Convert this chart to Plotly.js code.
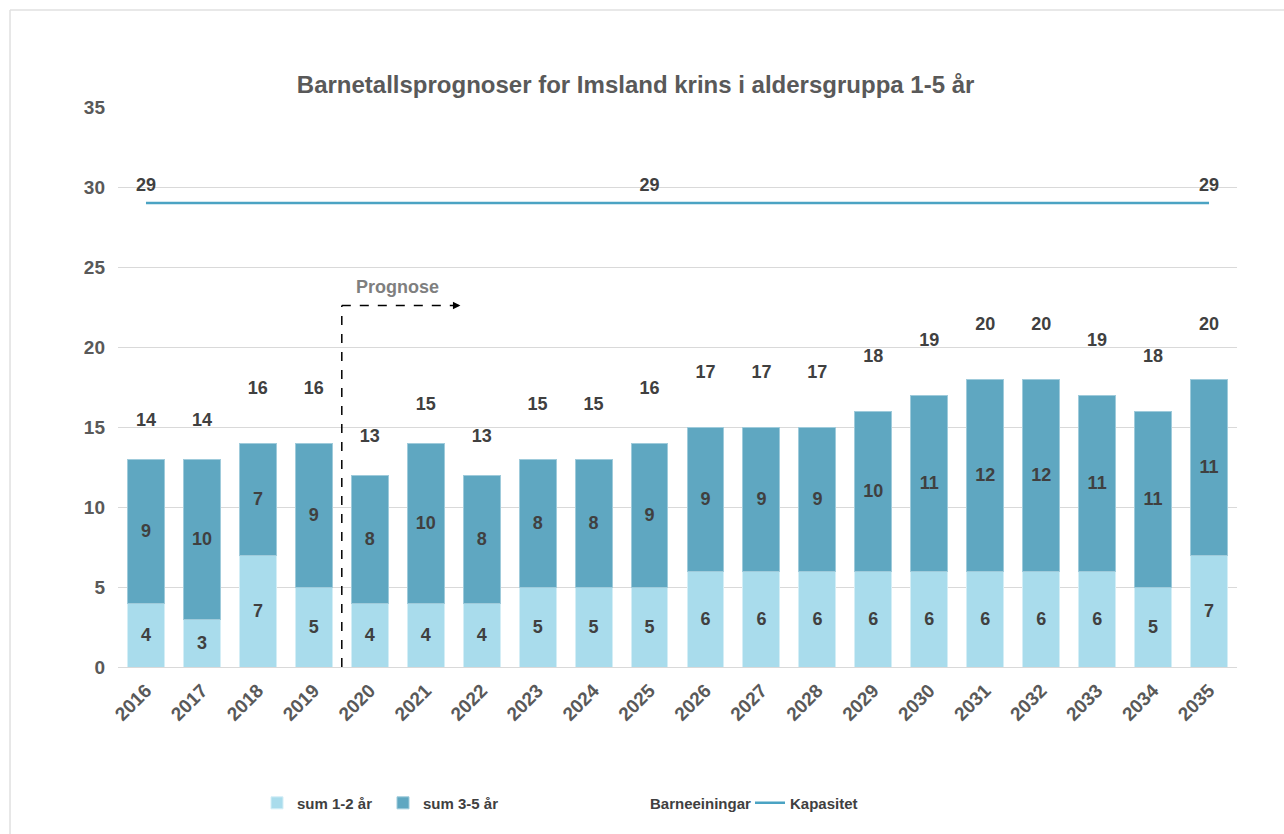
<!DOCTYPE html>
<html>
<head>
<meta charset="utf-8">
<script src="https://cdn.plot.ly/plotly-3.0.1.min.js"></script>
<style>html,body{margin:0;padding:0;background:#fff;}#chart{width:1284px;height:834px;}</style>
</head>
<body>
<div id="chart"></div>
<script>
const years = ['2016','2017','2018','2019','2020','2021','2022','2023','2024','2025','2026','2027','2028','2029','2030','2031','2032','2033','2034','2035'];
const sum12 = [4,3,7,5,4,4,4,5,5,5,6,6,6,6,6,6,6,6,5,7];
const sum35 = [9,10,7,9,8,10,8,8,8,9,9,9,9,10,11,12,12,11,11,11];
const barneeiningar = [14,14,16,16,13,15,13,15,15,16,17,17,17,18,19,20,20,19,18,20];
const kapasitet = [29,29,29,29,29,29,29,29,29,29,29,29,29,29,29,29,29,29,29,29];
const kapLabelIdx = [0, 9, 19];

const FF = 'Liberation Sans, Arial, sans-serif';
const labelFont = {family: FF, size: 18, color: '#404040', weight: 'bold'};
const legendFont = {family: FF, size: 15, color: '#404040', weight: 'bold'};

const traces = [
  {
    type: 'bar', name: 'sum 1-2 år', x: years, y: sum12, legend: 'legend',
    marker: {color: '#a9dcec', line: {color: '#d4eef6', width: 1}},
    text: sum12.map(String), textposition: 'inside', insidetextanchor: 'middle',
    textfont: labelFont, textangle: 0, hoverinfo: 'x+y'
  },
  {
    type: 'bar', name: 'sum 3-5 år', x: years, y: sum35, legend: 'legend2',
    marker: {color: '#5fa7c1', line: {color: '#9fcbdb', width: 1}},
    text: sum35.map(String), textposition: 'inside', insidetextanchor: 'middle',
    textfont: labelFont, textangle: 0, hoverinfo: 'x+y'
  },
  {
    type: 'scatter', mode: 'markers+text', name: 'Barneeiningar', x: years, y: barneeiningar, legend: 'legend3',
    marker: {size: 18, color: 'rgba(0,0,0,0)'},
    text: barneeiningar.map(String), textposition: 'top center',
    textfont: labelFont, cliponaxis: false
  },
  {
    type: 'scatter', mode: 'lines+markers+text', name: 'Kapasitet', x: years, y: kapasitet, legend: 'legend4',
    line: {color: '#4ba3c3', width: 2.5},
    marker: {size: 10, color: 'rgba(0,0,0,0)'},
    text: kapasitet.map((v, i) => kapLabelIdx.includes(i) ? String(v) : ''),
    textposition: 'top center', textfont: labelFont, cliponaxis: false
  }
];

function lg(px) {
  return {orientation: 'h', x: (px - 118) / 1119, xanchor: 'left', y: -0.243, yanchor: 'middle',
          font: legendFont, bgcolor: 'rgba(0,0,0,0)'};
}

const layout = {
  width: 1284, height: 834,
  paper_bgcolor: '#ffffff', plot_bgcolor: '#ffffff',
  margin: {l: 118, r: 47, t: 107, b: 167},
  barmode: 'stack', bargap: 0.34,
  font: {family: FF, color: '#595959'},
  title: {
    text: 'Barnetallsprognoser for Imsland krins i aldersgruppa 1-5 år',
    font: {family: FF, size: 24, color: '#595959', weight: 'bold'},
    x: 0.495, xref: 'container', xanchor: 'center', y: 0.898, yref: 'container', yanchor: 'middle'
  },
  xaxis: {
    type: 'category', range: [-0.5, 19.5], tickangle: -45, showgrid: false, zeroline: false,
    showline: true, linecolor: '#d9d9d9', linewidth: 1, ticks: '', ticklabelstandoff: 4,
    tickfont: {family: FF, size: 19, color: '#595959', weight: 'bold'}
  },
  yaxis: {
    range: [0, 35], dtick: 5, showgrid: true, gridcolor: '#d9d9d9', gridwidth: 1,
    zeroline: false, showline: false, ticks: '', ticklabelstandoff: 12,
    tickfont: {family: FF, size: 19, color: '#595959', weight: 'bold'}
  },
  showlegend: true,
  legend: lg(257),
  legend2: lg(383),
  legend3: lg(610),
  legend4: lg(750),
  shapes: [
    {type: 'line', xref: 'x', yref: 'y', x0: 3.5, x1: 3.5, y0: 0, y1: 22.6,
     line: {color: '#000000', width: 1.5, dash: 'dash'}},
    {type: 'line', xref: 'x', yref: 'y', x0: 3.5, x1: 5.5, y0: 22.6, y1: 22.6,
     line: {color: '#000000', width: 1.5, dash: 'dash'}},
    {type: 'line', xref: 'paper', yref: 'paper', x0: -0.0965, x1: -0.0965, y0: 1.173, y1: -0.3,
     line: {color: '#e0e0e0', width: 1.5}},
    {type: 'line', xref: 'paper', yref: 'paper', x0: -0.0965, x1: 1.05, y0: 1.173, y1: 1.173,
     line: {color: '#e0e0e0', width: 1.5}}
  ],
  annotations: [
    {xref: 'x', yref: 'y', x: 5.62, y: 22.6, ax: -6, ay: 0, showarrow: true,
     arrowhead: 2, arrowsize: 1, arrowwidth: 1.5, arrowcolor: '#000000', text: ''},
    {xref: 'x', yref: 'y', x: 4.5, y: 23.75, text: 'Prognose', showarrow: false,
     font: {family: FF, size: 18, color: '#7f7f7f', weight: 'bold'}}
  ]
};

Plotly.newPlot('chart', traces, layout, {displayModeBar: false, responsive: false});
</script>
</body>
</html>
